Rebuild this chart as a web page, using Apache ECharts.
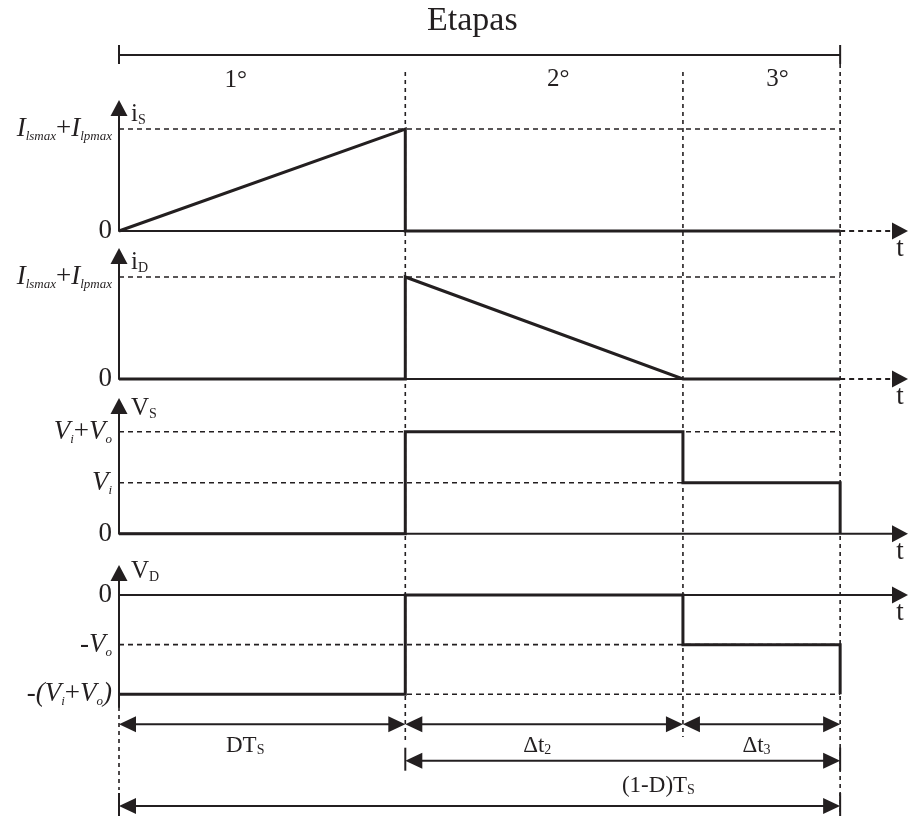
<!DOCTYPE html>
<html>
<head>
<meta charset="utf-8">
<title>Etapas</title>
<script src="https://cdn.jsdelivr.net/npm/echarts@6.0.0/dist/echarts.min.js"></script>
<style>
  html, body { margin: 0; padding: 0; background: #ffffff; }
  #chart { width: 909px; height: 816px; }
</style>
</head>
<body>
<div id="chart"></div>
<script>
// ---------- waveform data (time in units where T_S = 10) ----------
const stageTimes = [0, 3.97, 7.82, 10];      // start, DT_S, DT_S + Δt2, T_S
const timeAxisMax = 10.83;

const switchCurrent = [[0, 0], [3.97, 1], [3.97, 0], [10, 0]];
const diodeCurrent = [[0, 0], [3.97, 0], [3.97, 1], [7.82, 0], [10, 0]];
const switchVoltage = [[0, 0], [3.97, 0], [3.97, 2], [7.82, 2], [7.82, 1], [10, 1], [10, 0]];
const diodeVoltage = [[0, -2], [3.97, -2], [3.97, 0], [7.82, 0], [7.82, -1], [10, -1], [10, -2]];

// level ticks and their labels for each trace
const currentTicks = [0, 1];
const currentTickLabels = ['{u|0}', '{i|I}{s|lsmax}{u|+}{i|I}{s|lpmax}'];
const switchVoltageTicks = [0, 1, 2];
const switchVoltageTickLabels = ['{u|0}', '{i|V}{s|i}', '{i|V}{s|i}{u|+}{i|V}{s|o}'];
const diodeVoltageTicks = [0, -1, -2];
const diodeVoltageTickLabels = ['{u|0}', '{i|-V}{s|o}', '{i|-(V}{s|i}{u|+}{i|V}{s|o}{i|)}'];

const traceNames = ['{m|i}{s|S}', '{m|i}{s|D}', '{m|V}{s|S}', '{m|V}{s|D}'];
const timeAxisName = 't';

// interval dimensions
const intervalStarts = [0, 3.97, 7.82, 3.97, 0];
const intervalEnds = [3.97, 7.82, 10, 10, 10];
const intervalLabels = ['DT{s|S}', 'Δt{s|2}', 'Δt{s|3}', '(1-D)T{s|S}'];

const stageLabels = ['1°', '2°', '3°'];
const headerLabel = 'Etapas';

// ---------- layout & style ----------
const INK = '#231f20';
const SERIF = '"Liberation Serif", "Times New Roman", Times, serif';
const PLOT_LEFT = 119, PLOT_RIGHT = 9;

const panels = [
  { top: 108, height: 123, min: 0, max: 1.206, dashedTail: true, nameGap: -6,
    data: switchCurrent, ticks: currentTicks, labels: currentTickLabels },
  { top: 256, height: 123, min: 0, max: 1.206, dashedTail: true, nameGap: -6,
    data: diodeCurrent, ticks: currentTicks, labels: currentTickLabels },
  { top: 406, height: 127.7, min: 0, max: 2.504, dashedTail: false, nameGap: -2,
    data: switchVoltage, ticks: switchVoltageTicks, labels: switchVoltageTickLabels },
  { top: 573, height: 134, min: -2.256, max: 0.443, dashedTail: false, nameGap: 2,
    data: diodeVoltage, ticks: diodeVoltageTicks, labels: diodeVoltageTickLabels }
];

// overlay (y measured in px rows of the page)
const HEADER_POS = [4.9, 21.5];
const BRACKET_Y = 55, BRACKET_TICK = [45, 64];
const stageLabelPos = [[1.62, 80], [6.09, 79], [9.13, 79]];
const guideSpans = [[707, 790], [72, 740], [72, 737], [64, 816]];
const intervalRows = [724.3, 724.3, 724.3, 760.7, 806];
const intervalHasTicks = [0, 0, 0, 1, 1];
const intervalLabelPos = [[1.75, 745.6], [5.80, 745.6], [8.84, 745.6], [7.48, 785.6]];

const levelRich = {
  u: { fontFamily: SERIF, fontSize: 27, lineHeight: 28, color: INK },
  i: { fontFamily: SERIF, fontStyle: 'italic', fontSize: 27, lineHeight: 28, color: INK },
  s: { fontFamily: SERIF, fontStyle: 'italic', fontSize: 13, lineHeight: 13, verticalAlign: 'bottom', color: INK }
};
const nameRich = {
  m: { fontFamily: SERIF, fontSize: 25, lineHeight: 26, color: INK },
  s: { fontFamily: SERIF, fontSize: 14, lineHeight: 14, verticalAlign: 'bottom', color: INK }
};
const textRich = {
  s: { fontFamily: SERIF, fontSize: 14, lineHeight: 14, verticalAlign: 'bottom', fill: INK }
};

const grid = [], xAxis = [], yAxis = [], series = [];

// time axis: solid up to the end of the period (or to the arrow), optional dashed tail, arrowhead, "t"
function renderTimeAxis(params, api) {
  const a = api.coord([api.value(0), 0]);
  const b = api.coord([api.value(1), 0]);
  const c = api.coord([api.value(2), 0]);
  const y = a[1], half = 8, hw = 8.5;
  const st = { stroke: INK, lineWidth: 2 };
  const children = [
    { type: 'line', shape: { x1: a[0], y1: y, x2: b[0], y2: y }, style: st }
  ];
  if (c[0] - b[0] > 1) {
    children.push({ type: 'line', shape: { x1: b[0], y1: y, x2: c[0] - half + 1, y2: y },
                    style: { stroke: INK, lineWidth: 2, lineDash: [5, 4] } });
  }
  children.push({ type: 'polygon',
                  shape: { points: [[c[0] + half, y], [c[0] - half, y - hw], [c[0] - half, y + hw]] },
                  style: { fill: INK } });
  children.push({ type: 'text', x: c[0], y: y + 18,
                  style: { text: timeAxisName, fill: INK, fontFamily: SERIF, fontSize: 27,
                           align: 'center', verticalAlign: 'middle' } });
  return { type: 'group', children: children };
}

panels.forEach(function (p, k) {
  grid.push({ left: PLOT_LEFT, right: PLOT_RIGHT, top: p.top, height: p.height,
              containLabel: false, outerBoundsMode: 'none' });
  xAxis.push({
    gridIndex: k, type: 'value', min: 0, max: timeAxisMax,
    axisLine: { show: false }, axisTick: { show: false }, axisLabel: { show: false },
    splitLine: { show: false }
  });
  yAxis.push({
    gridIndex: k, type: 'value', min: p.min, max: p.max,
    axisLine: { show: true, onZero: false, symbol: ['none', 'triangle'], symbolSize: [17, 16],
                lineStyle: { color: INK, width: 2 } },
    axisTick: { show: false }, splitLine: { show: false },
    axisLabel: {
      customValues: p.ticks, showMinLabel: true, showMaxLabel: true, margin: 7,
      formatter: function (v) {
        const idx = p.ticks.findIndex(function (t) { return Math.abs(t - v) < 1e-9; });
        return idx < 0 ? '' : p.labels[idx];
      },
      rich: levelRich
    },
    name: traceNames[k], nameLocation: 'end', nameGap: p.nameGap,
    nameTextStyle: { align: 'left', verticalAlign: 'middle', padding: [0, 0, 0, 12], rich: nameRich }
  });

  // time axis drawn on the zero level
  series.push({
    type: 'custom', xAxisIndex: k, yAxisIndex: k, silent: true, z: 2,
    data: [[stageTimes[0], p.dashedTail ? stageTimes[3] : timeAxisMax, timeAxisMax]],
    renderItem: renderTimeAxis
  });

  // dashed level guides
  p.ticks.filter(function (t) { return t !== 0; }).forEach(function (lv) {
    series.push({
      type: 'line', xAxisIndex: k, yAxisIndex: k, silent: true, z: 1,
      data: [[stageTimes[0], lv], [stageTimes[3], lv]], symbol: 'none',
      lineStyle: { color: INK, width: 1.6, type: [5, 4] }
    });
  });

  // waveform
  series.push({
    type: 'line', xAxisIndex: k, yAxisIndex: k, silent: true, z: 5, clip: false,
    data: p.data, symbol: 'none',
    lineStyle: { color: INK, width: 3, join: 'miter', cap: 'butt' }
  });
});

// overlay coordinate system covering the whole page
const OV = panels.length;
grid.push({ left: PLOT_LEFT, right: PLOT_RIGHT, top: 0, bottom: 0, containLabel: false, outerBoundsMode: 'none' });
xAxis.push({ gridIndex: OV, type: 'value', min: 0, max: timeAxisMax, show: false });
yAxis.push({ gridIndex: OV, type: 'value', min: 0, max: 816, inverse: true, show: false });

// vertical stage guides
series.push({
  type: 'custom', xAxisIndex: OV, yAxisIndex: OV, silent: true, z: 1,
  data: stageTimes.map(function (t, k) { return [t, guideSpans[k][0], guideSpans[k][1]]; }),
  renderItem: function (params, api) {
    const a = api.coord([api.value(0), api.value(1)]);
    const b = api.coord([api.value(0), api.value(2)]);
    return { type: 'line', shape: { x1: a[0], y1: a[1], x2: b[0], y2: b[1] },
             style: { stroke: INK, lineWidth: 1.6, lineDash: [4, 4] } };
  }
});

// top bracket spanning one period
series.push({
  type: 'custom', xAxisIndex: OV, yAxisIndex: OV, silent: true, z: 3,
  data: [[stageTimes[0], stageTimes[3], BRACKET_Y]],
  renderItem: function (params, api) {
    const a = api.coord([api.value(0), api.value(2)]);
    const b = api.coord([api.value(1), api.value(2)]);
    const st = { stroke: INK, lineWidth: 2 };
    return { type: 'group', children: [
      { type: 'line', shape: { x1: a[0], y1: a[1], x2: b[0], y2: b[1] }, style: st },
      { type: 'line', shape: { x1: a[0], y1: BRACKET_TICK[0], x2: a[0], y2: BRACKET_TICK[1] }, style: st },
      { type: 'line', shape: { x1: b[0], y1: BRACKET_TICK[0], x2: b[0], y2: BRACKET_TICK[1] }, style: st }
    ] };
  }
});

// interval dimension arrows
series.push({
  type: 'custom', xAxisIndex: OV, yAxisIndex: OV, silent: true, z: 3,
  data: intervalStarts.map(function (s, k) { return [s, intervalEnds[k], intervalRows[k], intervalHasTicks[k]]; }),
  renderItem: function (params, api) {
    const a = api.coord([api.value(0), api.value(2)]);
    const b = api.coord([api.value(1), api.value(2)]);
    const y = a[1], L = 17, hw = 8;
    const st = { stroke: INK, lineWidth: 2 };
    const children = [
      { type: 'line', shape: { x1: a[0] + L - 1, y1: y, x2: b[0] - L + 1, y2: y }, style: st },
      { type: 'polygon', shape: { points: [[a[0], y], [a[0] + L, y - hw], [a[0] + L, y + hw]] }, style: { fill: INK } },
      { type: 'polygon', shape: { points: [[b[0], y], [b[0] - L, y - hw], [b[0] - L, y + hw]] }, style: { fill: INK } }
    ];
    if (api.value(3)) {
      children.push({ type: 'line', shape: { x1: a[0], y1: y - 13, x2: a[0], y2: y + 10 }, style: st });
      children.push({ type: 'line', shape: { x1: b[0], y1: y - 13, x2: b[0], y2: y + 10 }, style: st });
    }
    return { type: 'group', children: children };
  }
});

// texts: header, stage numbers, interval names
const overlayTexts = [{ text: headerLabel, size: 34 }]
  .concat(stageLabels.map(function (s) { return { text: s, size: 25 }; }))
  .concat(intervalLabels.map(function (s) { return { text: s, size: 23 }; }));
const overlayTextPos = [HEADER_POS].concat(stageLabelPos).concat(intervalLabelPos);

series.push({
  type: 'custom', xAxisIndex: OV, yAxisIndex: OV, silent: true, z: 4,
  data: overlayTextPos,
  renderItem: function (params, api) {
    const p = api.coord([api.value(0), api.value(1)]);
    const t = overlayTexts[params.dataIndex];
    return { type: 'text', x: p[0], y: p[1],
             style: { text: t.text, fill: INK, fontFamily: SERIF, fontSize: t.size,
                      align: 'center', verticalAlign: 'middle', rich: textRich } };
  }
});

const chart = echarts.init(document.getElementById('chart'), null, { renderer: 'canvas' });
chart.setOption({
  backgroundColor: '#ffffff',
  animation: false,
  grid: grid, xAxis: xAxis, yAxis: yAxis, series: series
});
</script>
</body>
</html>
